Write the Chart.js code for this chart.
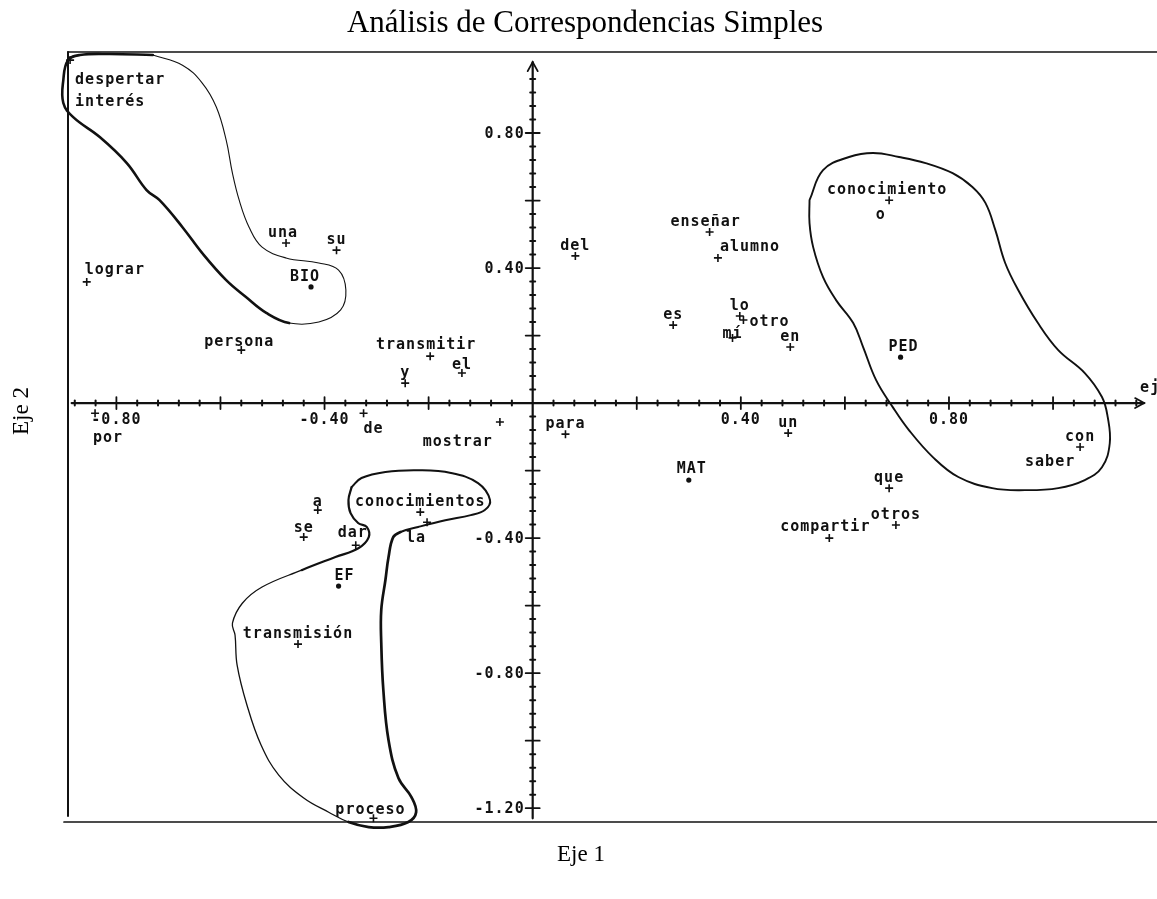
<!DOCTYPE html>
<html><head><meta charset="utf-8">
<script src="https://cdn.jsdelivr.net/npm/chart.js@4.4.1/dist/chart.umd.min.js"></script>
<style>html,body{margin:0;padding:0;background:#fff;}canvas{display:block;}</style>
</head><body>
<canvas id="c" width="1157" height="899"></canvas>
<script>
// ---------- data ----------
const words = ['despertar interés','una','su','lograr','persona','transmitir','y','el','de','mostrar','por','del','enseñar','alumno','es','lo','otro','mí','en','conocimiento','o','con','saber','que','otros','compartir','un','para','a','se','dar','conocimientos','la','transmisión','proceso'];
const wordX = [-0.889,-0.474,-0.377,-0.857,-0.560,-0.197,-0.245,-0.136,-0.325,-0.063,-0.841,0.082,0.340,0.356,0.270,0.398,0.405,0.384,0.495,0.685,0.669,1.052,1.052,0.685,0.698,0.570,0.491,0.063,-0.413,-0.440,-0.340,-0.216,-0.203,-0.451,-0.306];
const wordY = [1.016,0.474,0.453,0.359,0.157,0.139,0.059,0.089,-0.030,-0.056,-0.030,0.436,0.507,0.430,0.231,0.258,0.246,0.193,0.166,0.601,0.557,-0.130,-0.130,-0.252,-0.361,-0.400,-0.089,-0.092,-0.317,-0.397,-0.421,-0.323,-0.353,-0.714,-1.230];

const groups = ['BIO','PED','MAT','EF'];
const groupX = [-0.426,0.707,0.300,-0.373];
const groupY = [0.344,0.136,-0.228,-0.542];

const xTickVals = [-0.8,-0.4,0.4,0.8];
const xTickLabels = ['-0.80','-0.40','0.40','0.80'];
const yTickVals = [0.8,0.4,-0.4,-0.8,-1.2];
const yTickLabels = ['0.80','0.40','-0.40','-0.80','-1.20'];

// hand-drawn group outlines (data coordinates)
const loop1 = [[-0.730,1.031],[-0.673,1.001],[-0.635,0.948],[-0.608,0.877],[-0.589,0.779],[-0.577,0.681],[-0.564,0.601],[-0.545,0.521],[-0.520,0.462],[-0.474,0.430],[-0.411,0.415],[-0.373,0.394],[-0.359,0.335],[-0.369,0.276],[-0.411,0.240],[-0.468,0.237],[-0.512,0.267],[-0.551,0.314],[-0.589,0.364],[-0.635,0.444],[-0.673,0.521],[-0.717,0.601],[-0.742,0.631],[-0.780,0.711],[-0.832,0.788],[-0.883,0.847],[-0.902,0.889],[-0.902,0.957],[-0.893,1.016],[-0.870,1.031],[-0.813,1.034],[-0.730,1.031]];
const loop2 = [[0.532,0.601],[0.558,0.690],[0.608,0.729],[0.654,0.741],[0.704,0.729],[0.755,0.711],[0.807,0.681],[0.845,0.640],[0.870,0.593],[0.889,0.513],[0.908,0.415],[0.933,0.335],[0.971,0.237],[1.010,0.157],[1.061,0.089],[1.094,0.018],[1.105,-0.041],[1.109,-0.119],[1.094,-0.190],[1.061,-0.228],[1.010,-0.252],[0.946,-0.258],[0.883,-0.252],[0.818,-0.219],[0.769,-0.160],[0.723,-0.080],[0.692,-0.012],[0.660,0.068],[0.635,0.166],[0.616,0.237],[0.583,0.305],[0.558,0.373],[0.539,0.462],[0.532,0.533],[0.532,0.601]];
const loop3 = [[-0.348,-0.249],[-0.329,-0.222],[-0.283,-0.204],[-0.220,-0.199],[-0.157,-0.207],[-0.105,-0.237],[-0.082,-0.287],[-0.092,-0.317],[-0.119,-0.332],[-0.168,-0.347],[-0.220,-0.367],[-0.254,-0.382],[-0.268,-0.397],[-0.277,-0.456],[-0.283,-0.524],[-0.291,-0.613],[-0.291,-0.711],[-0.287,-0.850],[-0.277,-0.999],[-0.258,-1.111],[-0.233,-1.167],[-0.224,-1.212],[-0.239,-1.241],[-0.277,-1.256],[-0.315,-1.256],[-0.354,-1.241],[-0.392,-1.212],[-0.440,-1.170],[-0.488,-1.102],[-0.522,-1.013],[-0.549,-0.895],[-0.568,-0.776],[-0.572,-0.687],[-0.577,-0.652],[-0.558,-0.593],[-0.520,-0.545],[-0.444,-0.495],[-0.379,-0.456],[-0.335,-0.430],[-0.315,-0.397],[-0.319,-0.367],[-0.335,-0.356],[-0.350,-0.326],[-0.354,-0.287],[-0.348,-0.249]];

// ---------- styling ----------
const INK = '#111';
const LABEL_FONT = 'bold 15px "DejaVu Sans Mono", "Liberation Mono", monospace';
const SERIF = '"Liberation Serif", "Times New Roman", serif';
const labelStyle = {
  'despertar interés': {align:'left', dx:5, dy:20, multiline:true, lineGap:22},
  'lograr': {align:'left', dx:-2, dy:-12},
  'de': {dx:10, dy:16},
  'mostrar': {align:'right', dx:-7, dy:20},
  'por': {align:'left', dx:-2, dy:25},
  'alumno': {align:'left', dx:2, dy:-11},
  'otro': {align:'left', dx:6, dy:2},
  'mí': {dy:-4},
  'o': {dy:0, hideMarker:true},
  'saber': {dx:-30, dy:15, hideMarker:true},
  'la': {dx:-11, dy:16},
  'una': {dx:-3}, 'BIO': {dx:-6}, 'transmitir': {dx:-4, dy:-11}, 'enseñar': {dx:-4},
  'compartir': {dx:-4, dy:-11}, 'PED': {dx:3}, 'MAT': {dx:3, dy:-11}, 'EF': {dx:6},
  'dar': {dx:-3, dy:-12}, 'proceso': {dx:-3, dy:-8}, 'conocimiento': {dx:-2},
  'el': {dy:-8}, 'a': {dy:-8}, 'se': {dy:-9}, 'persona': {dx:-2, dy:-8}
};
const loopStyle = [
  {base:1.1, ranges:[[15,31,2.6]]},
  {base:1.9, ranges:[]},
  {base:1.3, ranges:[[0,11,2.0],[11,25,2.7],[36,44,2.2]]}
];

function loopDataset(pts, st){
  return {
    data: pts.map(p => ({x:p[0], y:p[1]})),
    showLine:true, tension:0.4, pointRadius:0, borderColor:INK, borderWidth:st.base,
    clip:false, borderCapStyle:'round', borderJoinStyle:'round',
    segment:{ borderWidth: ctx => { const i = ctx.p0DataIndex; for (const r of st.ranges){ if(i>=r[0] && i<r[1]) return r[2]; } return st.base; } }
  };
}

function drawLabel(ctx, text, px, py, st){
  const s = Object.assign({align:'center', dx:0, dy:-10}, st || {});
  ctx.textAlign = s.align; ctx.textBaseline = 'middle';
  const lines = s.multiline ? text.split(' ') : [text];
  lines.forEach((ln, i) => ctx.fillText(ln, px + s.dx, py + s.dy + i*(s.lineGap||0)));
}

const decorPlugin = {
  id:'decor',
  beforeDatasetsDraw(chart){
    const {ctx, scales:{x, y}} = chart;
    const x0 = x.getPixelForValue(0), y0 = y.getPixelForValue(0);
    const L = x.getPixelForValue(x.min), R = chart.width;
    const T = y.getPixelForValue(y.max), B = y.getPixelForValue(y.min);
    ctx.save();
    ctx.strokeStyle = INK; ctx.fillStyle = INK; ctx.lineCap = 'round';
    // frame
    ctx.lineWidth = 1.7;
    ctx.beginPath(); ctx.moveTo(L, T); ctx.lineTo(R, T); ctx.stroke();
    ctx.beginPath(); ctx.moveTo(L-4, B); ctx.lineTo(R, B); ctx.stroke();
    ctx.lineWidth = 2;
    ctx.beginPath(); ctx.moveTo(L, T); ctx.lineTo(L, B-6); ctx.stroke();
    // horizontal axis
    const xa0 = x.getPixelForValue(-0.886), xa1 = x.getPixelForValue(1.175);
    ctx.lineWidth = 2.2;
    ctx.beginPath(); ctx.moveTo(xa0, y0); ctx.lineTo(xa1, y0); ctx.stroke();
    ctx.lineWidth = 1.8;
    ctx.beginPath(); ctx.moveTo(xa1-9, y0-5); ctx.lineTo(xa1, y0); ctx.lineTo(xa1-9, y0+5); ctx.stroke();
    for (let k=-22; k<=29; k++){
      if (k===0) continue;
      const px = x.getPixelForValue(k*0.04);
      const len = (k%5===0) ? 6 : 2.5;
      ctx.lineWidth = (k%5===0) ? 1.8 : 2;
      ctx.beginPath(); ctx.moveTo(px, y0-len); ctx.lineTo(px, y0+len); ctx.stroke();
    }
    // vertical axis
    const ya0 = y.getPixelForValue(-1.23), ya1 = y.getPixelForValue(1.01);
    ctx.lineWidth = 2.2;
    ctx.beginPath(); ctx.moveTo(x0, ya0); ctx.lineTo(x0, ya1); ctx.stroke();
    ctx.lineWidth = 1.8;
    ctx.beginPath(); ctx.moveTo(x0-5, ya1+9); ctx.lineTo(x0, ya1); ctx.lineTo(x0+5, ya1+9); ctx.stroke();
    for (let k=-30; k<=24; k++){
      if (k===0) continue;
      const py = y.getPixelForValue(k*0.04);
      const len = (k%5===0) ? 7 : 2.5;
      ctx.lineWidth = (k%5===0) ? 1.8 : 2;
      ctx.beginPath(); ctx.moveTo(x0-len, py); ctx.lineTo(x0+len, py); ctx.stroke();
    }
    // tick labels
    ctx.font = LABEL_FONT; ctx.letterSpacing = '1px';
    ctx.textBaseline = 'middle'; ctx.textAlign = 'center';
    xTickVals.forEach((v,i) => ctx.fillText(xTickLabels[i], x.getPixelForValue(v), y0 + 17));
    ctx.textAlign = 'right';
    yTickVals.forEach((v,i) => ctx.fillText(yTickLabels[i], x0 - 8, y.getPixelForValue(v) + 1));
    ctx.textAlign = 'left';
    ctx.fillText('eje 1', xa1 - 4, y0 - 15);
    ctx.restore();
  },
  afterDatasetsDraw(chart){
    const {ctx} = chart;
    ctx.save();
    ctx.fillStyle = INK; ctx.font = LABEL_FONT; ctx.letterSpacing = '1px';
    const mw = chart.getDatasetMeta(3), mg = chart.getDatasetMeta(4);
    words.forEach((w,i) => { const el = mw.data[i]; drawLabel(ctx, w, el.x, el.y, labelStyle[w]); });
    groups.forEach((g,i) => { const el = mg.data[i]; drawLabel(ctx, g, el.x, el.y, labelStyle[g]); });
    ctx.letterSpacing = '0px';
    // titles
    ctx.textAlign = 'center'; ctx.textBaseline = 'middle';
    ctx.font = '31px ' + SERIF;
    ctx.fillStyle = '#000';
    ctx.fillText('Análisis de Correspondencias Simples', 585, 24);
    ctx.font = '23px ' + SERIF;
    ctx.fillText('Eje 1', 581, 855);
    ctx.translate(22, 411); ctx.rotate(-Math.PI/2);
    ctx.fillText('Eje 2', 0, 0);
    ctx.restore();
  }
};

new Chart(document.getElementById('c'), {
  type:'scatter',
  data:{ datasets:[
    loopDataset(loop1, loopStyle[0]),
    loopDataset(loop2, loopStyle[1]),
    loopDataset(loop3, loopStyle[2]),
    { data: words.map((w,i) => ({x:wordX[i], y:wordY[i]})),
      pointStyle:'cross', borderColor:INK, pointBorderColor:INK, pointBorderWidth:1.6,
      pointRadius: ctx => (labelStyle[words[ctx.dataIndex]] && labelStyle[words[ctx.dataIndex]].hideMarker) ? 0 : 4,
      clip:false },
    { data: groups.map((g,i) => ({x:groupX[i], y:groupY[i]})),
      pointStyle:'circle', pointRadius:2.6, backgroundColor:INK, borderColor:INK, pointBorderWidth:0 }
  ]},
  options:{
    responsive:false, animation:false, devicePixelRatio:1, events:[],
    layout:{ padding:{left:68, top:52, right:0, bottom:77} },
    scales:{
      x:{ type:'linear', min:-0.893, max:1.189, display:false },
      y:{ type:'linear', min:-1.241, max:1.040, display:false }
    },
    plugins:{ legend:{display:false}, tooltip:{enabled:false}, title:{display:false} }
  },
  plugins:[decorPlugin]
});
</script>
</body></html>
